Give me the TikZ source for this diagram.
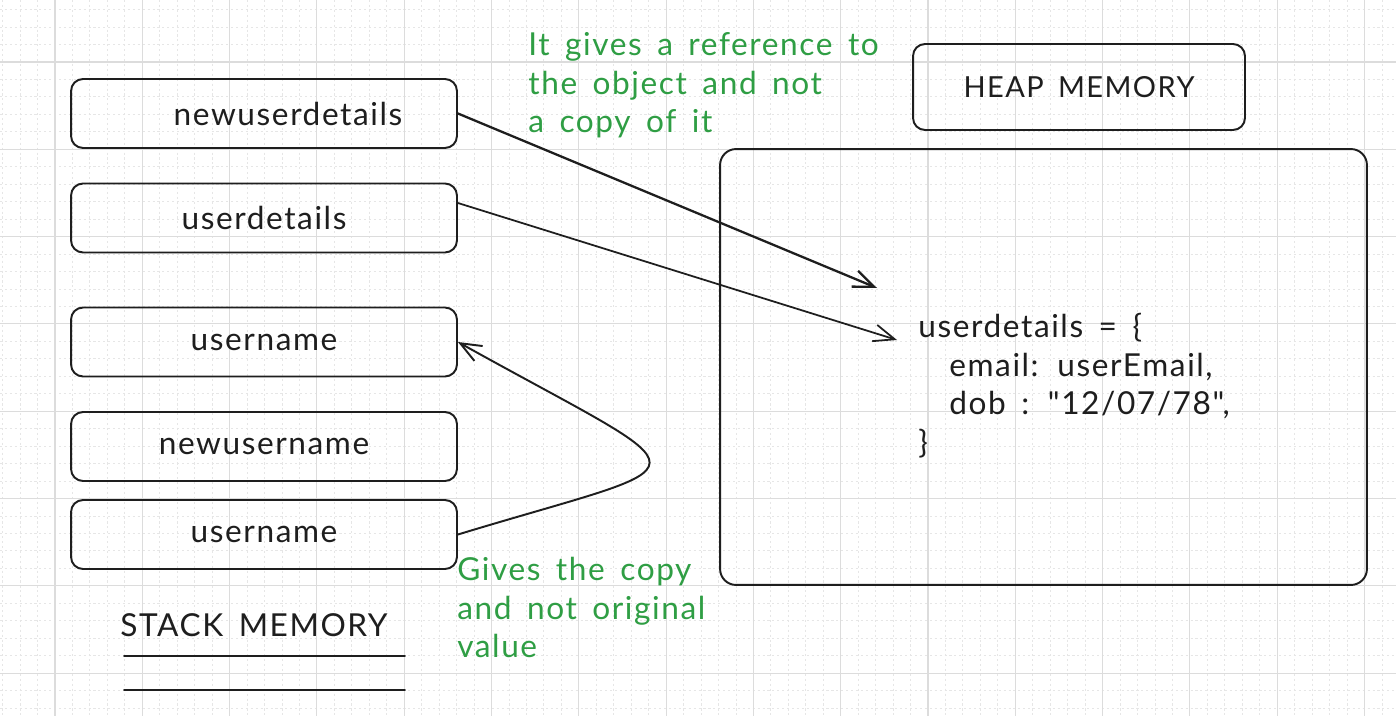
\documentclass[tikz,border=0pt]{standalone}
\usepackage{fontspec}
\setmainfont{Lato}[Ligatures=TeXOff,LetterSpace=5,WordSpace=1.6]
\usetikzlibrary{arrows.meta}

\definecolor{ink}{HTML}{1E1E1E}
\definecolor{notegreen}{HTML}{2F9E44}
\definecolor{gridmajor}{HTML}{DCDCDC}
\definecolor{gridminor}{HTML}{E6E6E6}

\tikzset{
  majorgrid/.style={draw=gridmajor,line width=0.6pt},
  minorgrid/.style={draw=gridminor,line width=0.5pt,dash pattern=on 1.2pt off 1.6pt},
  sketch/.style={draw=ink,line width=1.1pt,line cap=round,line join=round},
  stackcell/.style={sketch,rounded corners=0.24cm,minimum width=7.72cm,minimum height=1.38cm,
    inner sep=0pt,text=ink,font=\fontsize{18}{22}\selectfont},
  heaptitle/.style={stackcell,minimum width=6.64cm,minimum height=1.72cm,font=\fontsize{16.5}{20}\selectfont},
  heapbox/.style={sketch,rounded corners=0.32cm,minimum width=12.94cm,minimum height=8.72cm,inner sep=0pt},
  codetext/.style={align=left,inner sep=0pt,anchor=north west,text=ink,font=\fontsize{18}{21.9}\selectfont},
  note/.style={align=left,inner sep=0pt,anchor=north west,text=notegreen,font=\fontsize{18}{22}\selectfont}
}

\begin{document}
\begin{tikzpicture}[x=0.02cm,y=-0.02cm,>={Straight Barb[length=0.42cm,width=0.34cm]}]
  \useasboundingbox (0,0) rectangle (1396,716);
  \fill[white] (0,0) rectangle (1396,716);
  % grid paper
  \foreach \i in {0,...,80} \draw[minorgrid] ({2.62+17.46*\i},0) -- ++(0,716);
  \foreach \j in {0,...,41} \draw[minorgrid] (0,{9.62+17.46*\j}) -- ++(1396,0);
  \foreach \i in {0,...,15} \draw[majorgrid] ({55+87.3*\i},0) -- ++(0,716);
  \foreach \j in {0,...,7} \draw[majorgrid] (0,{62+87.3*\j}) -- ++(1396,0);

  % stack side
  \node[stackcell,label={[text=ink,font=\fontsize{18}{22}\selectfont,xshift=0.48cm]center:newuserdetails}] (newdetails) at (264,113.5) {};
  \node[stackcell] (details) at (264,218) {userdetails};
  \node[stackcell] (uname) at (264,342) {username};
  \node[stackcell] (newuname) at (264,446.5) {newusername};
  \node[stackcell] (unamecopy) at (264,534.5) {username};
  \node[text=ink,inner sep=0pt,font=\fontsize{18}{22}\selectfont] (stacktitle) at (254,625) {STACK MEMORY};
  \draw[sketch] (124,656) -- (405,656);
  \draw[sketch] (124,690) -- (405,690);

  % heap side
  \node[heaptitle] (heaptitle) at (1079,87) {HEAP MEMORY};
  \node[heapbox] (heap) at (1043.5,367) {};
  \node[codetext] (code) at (918,313) {userdetails = \{\\
    \hspace*{0.62cm}email: userEmail,\\
    \hspace*{0.62cm}dob : "12/07/78",\\
    \}};

  % notes
  \node[note] (refnote) at (528,32) {It gives a reference to\\the object and not\\a copy of it};
  \node[note] (copynote) at (457,557) {Gives the copy\\and not original\\value};

  % connectors
  \coordinate (refend) at (877,288);
  \coordinate (codeend) at (897,340);
  \draw[sketch,line width=1.3pt,->] (newdetails.east) -- (refend);
  \draw[sketch,line width=1pt,->] ([yshift=0.3cm]details.east) -- (codeend);
  \draw[sketch,->] (unamecopy.east) .. controls (713,457) and (713,484) .. (uname.east);
\end{tikzpicture}
\end{document}
